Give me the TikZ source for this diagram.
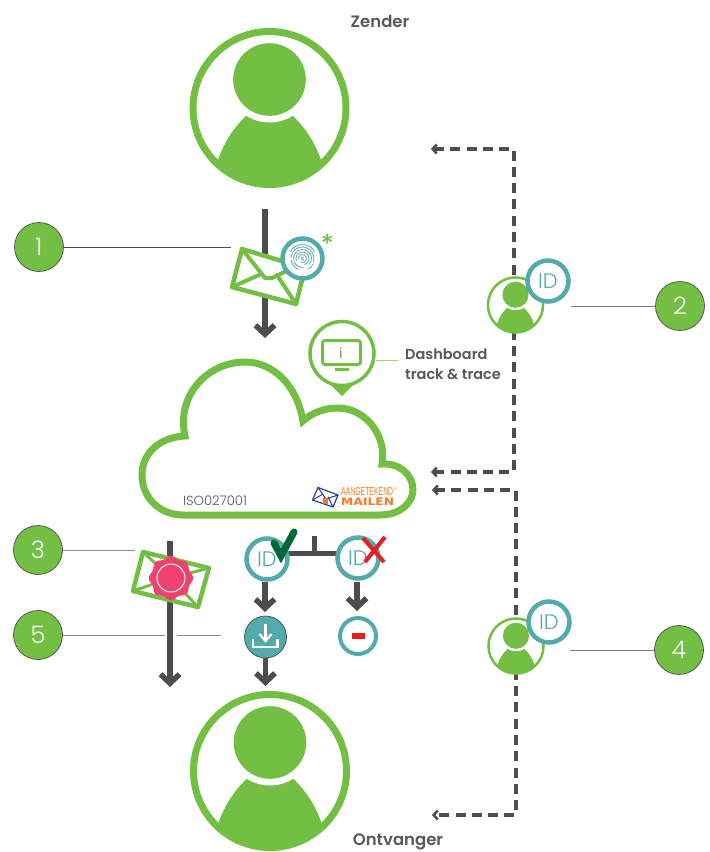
\documentclass[tikz,border=0pt]{standalone}
\usepackage{fontspec}
\setmainfont{Poppins}
\newfontfamily\lightfont{Poppins Light}
\newfontfamily\medfont{Poppins Medium}
\newfontfamily\semifont{Poppins SemiBold}
\newfontfamily\logofont{Liberation Sans}
\newfontfamily\logobold{DejaVu Sans Bold}
\usetikzlibrary{arrows.meta}
\definecolor{grn}{HTML}{72BF44}
\definecolor{teal2}{HTML}{52ABAA}
\definecolor{dk}{HTML}{4D4D4F}
\definecolor{txt}{HTML}{58595B}
\definecolor{pinkr}{HTML}{F0426F}
\definecolor{chk}{HTML}{006838}
\definecolor{redx}{HTML}{ED1C24}
\definecolor{org}{HTML}{F47B20}
\definecolor{blu}{HTML}{27408B}
\tikzset{
  numnode/.style={circle,draw=dk,line width=.7pt,fill=grn,minimum size=49pt,inner sep=0pt,text=white,font=\lightfont\fontsize{24}{24}\selectfont},
  idnode/.style={circle,draw=teal2,line width=4.5pt,fill=white,minimum size=41pt,inner sep=0pt,text=teal2,font=\lightfont\fontsize{21}{21}\selectfont},
  bigarrow/.style={draw=dk,line width=5.5pt,-{Straight Barb[length=9pt,width=19pt,line width=5.5pt]}},
  dashline/.style={draw=dk,line width=3.2pt,dash pattern=on 10pt off 6.3pt,{Straight Barb[length=4pt,width=9pt,line width=2.6pt]}-{Straight Barb[length=4pt,width=9pt,line width=2.6pt]}},
  leader/.style={draw=#1,line width=1pt},
  leader/.default=dk,
  envel/.style={draw=grn,line width=4.5pt,fill=white,line join=round},
  envflap/.style={draw=grn,line width=4pt,line join=round,line cap=round},
  lbl/.style={text=txt,font=\semifont\fontsize{14.5}{16}\selectfont,inner sep=0pt},
  headlbl/.style={text=txt,font=\semifont\fontsize{16.5}{18}\selectfont,inner sep=0pt},
  fp/.style={draw=teal2,line width=.8pt,line cap=round}
}
\newcommand{\drawperson}[4]{%
  \begin{scope}[shift={(#1,#2)},scale=#3]
    \fill[white] (0,0) circle[radius=76.5pt];
    \begin{scope}
      \clip (0,0) circle[radius=76.5pt];
      \fill[grn] (-62,90) -- (-56,70) -- (-51.5,52) .. controls (-45,33) and (-35,19) .. (-23.5,8) -- (0,-10) -- (23.5,8) .. controls (35,19) and (45,33) .. (51.5,52) -- (56,70) -- (62,90) -- cycle;
    \end{scope}
    \draw[grn,line width=#4] (0,0) circle[radius=76.5pt];
    \fill[white] (0,-28.5) circle[radius=43pt];
    \fill[grn] (0,-28.5) circle[radius=36.3pt];
  \end{scope}}
\newcommand{\fparc}[3]{\draw[fp] (302.5,258.5) ++(#1:#3pt) arc[start angle=#1,end angle=#2,radius=#3pt];}
\begin{document}
\begin{tikzpicture}[x=1pt,y=-1pt]
\path[use as bounding box,fill=white] (0,0) rectangle (710,852);
\clip (0,0) rectangle (710,852);

% dashed routes
\coordinate (d1a) at (514,149); \coordinate (d1b) at (514,472);
\coordinate (d1s) at (431,149); \coordinate (d1e) at (431,472);
\coordinate (d2a) at (516,490); \coordinate (d2b) at (516,815);
\coordinate (d2s) at (432,490); \coordinate (d2e) at (432,815);
\path[dashline] (d1s) -- (d1a) -- (d1b) -- (d1e);
\path[dashline] (d2s) -- (d2a) -- (d2b) -- (d2e);

% people
\drawperson{269.5}{108}{1}{7pt}
\drawperson{270}{771}{1}{7pt}
\coordinate (zA) at (265,209); \coordinate (zB) at (265,338);
\draw[bigarrow] (zA) -- (zB);

% envelope 1
\draw[envel] (242,249) -- (305,268) -- (296,304) -- (232,287) -- cycle;
\draw[envflap] (242,249) -- (265,278) -- (272,278) -- (305,262);
\draw[envflap] (232,287) -- (259,275);
\draw[envflap] (296,304) -- (277,275);
\node[idnode,minimum size=40pt] (fpn) at (302.5,258.5) {};
\fparc{30}{150}{14}
\fparc{-15}{175}{11.5}
\fparc{-40}{185}{9}
\fparc{-70}{200}{6.5}
\fparc{-120}{180}{4}
\fparc{60}{340}{1.5}
\fparc{190}{250}{11.5}
\fparc{195}{275}{9}
\fparc{-60}{-30}{12}
\node[text=grn,font=\medfont\fontsize{26}{26}\selectfont,inner sep=0pt] (ast) at (327.5,243.5) {*};
\coordinate (l1e) at (231,247);
\node[numnode] (n1) at (39,247) {1};
\draw[leader] (n1) -- (l1e);

% cloud
\draw[grn,line width=7pt,fill=white,miter limit=10] (183,515) -- (380,515)
  .. controls (402,515) and (413,501) .. (413,490)
  .. controls (413,475) and (400,463) .. (382,464)
  .. controls (387,435) and (365,408) .. (338,408)
  .. controls (325,408) and (313,412) .. (303,421)
  .. controls (297,385) and (273,362) .. (245,362)
  .. controls (208,362) and (176,395) .. (185,436)
  .. controls (160,437) and (142,453) .. (142,475)
  .. controls (142,498) and (160,515) .. (183,515) -- cycle;
\node[text=txt,font=\lightfont\fontsize{13.2}{14}\selectfont,inner sep=0pt] (iso) at (215,501) {ISO027001};

% dashboard pin
\fill[grn] (342,396) -- (329,383) -- (355,383) -- cycle;
\draw[grn,line width=3.5pt,fill=white] (342,353.5) circle[radius=32pt];
\draw[grn,line width=3pt,rounded corners=2.5pt] (322.5,340.5) rectangle (360.5,364.5);
\draw[grn,line width=3pt] (335,369.5) -- (349,369.5);
\node[text=txt,font=\lightfont\fontsize{14}{14}\selectfont,inner sep=0pt] (inf) at (341,353) {i};
\coordinate (dbA) at (376,360); \coordinate (dbB) at (398,360);
\draw[leader=grn!70] (dbA) -- (dbB);
\node[lbl,anchor=base west] (db1) at (405,359) {Dashboard};
\node[lbl,anchor=base west] (db2) at (405,379) {track \& trace};

% logo
\draw[blu,line width=1.2pt,fill=white,line join=round] (318,487.5) -- (338,495) -- (333,507) -- (312.5,500) -- cycle;
\draw[blu,line width=1pt] (318,487.5) -- (326,499) -- (338,495);
\draw[blu,line width=1pt] (312.5,500) -- (323,494);
\draw[blu,line width=1pt] (333,507) -- (328,497);
\fill[org] (323,498) rectangle (328,504);
\node[text=org,inner sep=0pt,anchor=south west] (lg1) at (341,495.5) {\resizebox{52pt}{8pt}{\logofont AANGETEKEND}};
\node[text=org,inner sep=0pt,anchor=base west,font=\logofont\fontsize{4}{4}\selectfont] (lg3) at (393.5,490) {®};
\node[text=org,inner sep=0pt,anchor=south west] (lg2) at (341,506) {\resizebox{53pt}{7.5pt}{\logobold MAILEN}};

% lower branch
\coordinate (jn) at (314,553); \coordinate (jt) at (314,536);
\coordinate (jl) at (288,553); \coordinate (jr) at (337,553);
\draw[draw=dk,line width=5pt] (jn) -- (jt);
\draw[draw=dk,line width=5pt] (jl) -- (jr);
\node[idnode] (idok) at (267,559) {ID};
\node[idnode] (idno) at (358,558) {ID};
\draw[chk,line width=7pt,line join=miter,line cap=round] (274,543) -- (281,556) -- (294,532);
\draw[redx,line width=4pt] (363,538) -- (384,562);
\draw[redx,line width=4pt] (385,537) -- (365,562);
\node[circle,draw=dk,line width=.7pt,fill=teal2,minimum size=42pt,inner sep=0pt] (dl) at (265.5,637) {};
\draw[white,line width=2.2pt] (253,639) -- (253,647) -- (277.5,647) -- (277.5,639);
\draw[white,line width=2.2pt] (265.5,624) -- (265.5,640);
\draw[white,line width=2.2pt] (259.5,634) -- (265.5,641) -- (271.5,634);
\node[circle,draw=teal2,line width=4pt,fill=white,minimum size=36pt,inner sep=0pt] (mn) at (358,636) {};
\fill[redx] (352,633) rectangle (365,639);
\coordinate (oks) at (265,582); \coordinate (nos) at (357,582);
\coordinate (okb) at (265,612); \coordinate (nob) at (357,611);
\draw[bigarrow] (oks) -- (okb);
\draw[bigarrow] (nos) -- (nob);
\coordinate (dls) at (265.5,658); \coordinate (dlb) at (265.5,686);
\draw[bigarrow] (dls) -- (dlb);

% long arrow and sealed envelope
\coordinate (la) at (170,541); \coordinate (lb) at (170,687);
\draw[bigarrow] (la) -- (lb);
\draw[envel] (143,552) -- (209,568) -- (198,607) -- (133,591) -- cycle;
\draw[envflap,line width=3pt] (143,552) -- (171,578) -- (209,568);
\draw[envflap,line width=3pt] (133,591) -- (171,578) -- (198,607);
\fill[pinkr] plot[domain=0:352,samples=45,smooth cycle] ({171+(21+1.4*cos(8*\x))*cos(\x)},{578+(21+1.4*cos(8*\x))*sin(\x)});
\node[circle,draw=white,line width=1pt,minimum size=28pt,inner sep=0pt] (seal) at (171,578) {};

\node[numnode] (n3) at (38,550) {3};
\coordinate (l3e) at (135,550);
\draw[leader=black!45] (n3) -- (l3e);
\node[numnode] (n5) at (38,635) {5};
\coordinate (l5a) at (165,635); \coordinate (l5b) at (177,635); \coordinate (l5c) at (221,635);
\draw[leader=black!45] (n5) -- (l5a);
\draw[leader=black!45] (l5b) -- (l5c);

% side identities
\drawperson{515.5}{305}{.36}{2.5pt}
\node[idnode] (id2) at (548,281) {ID};
\node[numnode] (n2) at (680,306) {2};
\coordinate (l2s) at (571,306);
\draw[leader=black!50] (l2s) -- (n2);
\drawperson{516}{646}{.36}{2.5pt}
\node[idnode] (id4) at (549,622) {ID};
\node[numnode] (n4) at (679,650) {4};
\coordinate (l4s) at (570,650);
\draw[leader=black!50] (l4s) -- (n4);

\node[headlbl] (zender) at (380,21) {Zender};
\node[headlbl] (ontv) at (398,842) {Ontvanger};
\end{tikzpicture}
\end{document}
